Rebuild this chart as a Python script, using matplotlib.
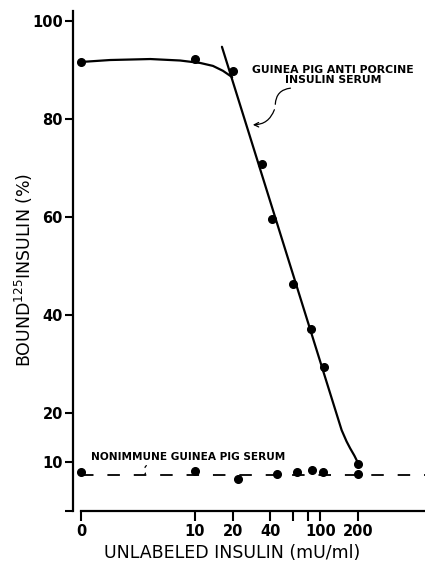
import matplotlib
matplotlib.use("Agg")
import matplotlib.pyplot as plt

# ---------------- data ----------------
# x: unlabeled insulin (mU/ml); 0 is drawn at a stand-in position on the log axis
ZERO_POS = 1.23

immune_x = [0, 10, 20, 34, 41, 60, 84, 107, 200]
immune_y = [91.6, 92.2, 89.8, 70.8, 59.6, 46.3, 37.1, 29.4, 9.6]

# hand-drawn curve through the immune-serum points (plateau, then steep fall)
plateau_x = [0, 2.1, 4.4, 7.6, 11.0, 13.9, 16.7, 19.8]
plateau_y = [91.6, 92.0, 92.2, 91.9, 91.4, 90.8, 89.8, 88.5]
steep_x = [16.4, 148, 162, 173, 187, 200]
steep_y = [94.7, 16.5, 14.2, 12.8, 11.3, 9.8]

nonimmune_x = [0, 10, 22, 45, 65, 86, 105, 200]
nonimmune_y = [8.0, 8.2, 6.5, 7.5, 8.0, 8.4, 8.0, 7.6]
nonimmune_level = 7.3

x_ticks = [0, 10, 20, 40, 60, 80, 100, 200]
x_ticklabels = ["0", "10", "20", "40", "", "", "100", "200"]
y_ticks = [0, 10, 20, 40, 60, 80, 100]
y_ticklabels = ["", "10", "20", "40", "60", "80", "100"]


def pos(xs):
    return [ZERO_POS if v == 0 else v for v in xs]


plt.rcParams["lines.scale_dashes"] = False
plt.rcParams["font.family"] = ["DejaVu Sans"]

fig = plt.figure(figsize=(4.25, 5.65), dpi=100)
ax = fig.add_axes([81 / 425, 54 / 565, 344 / 425, 500 / 565])

ax.set_xscale("log")
ax.set_xlim(ZERO_POS, 685)
ax.set_ylim(0, 102)

lw = 1.6
ax.plot(pos(plateau_x), plateau_y, color="black", lw=lw, clip_on=False,
        solid_capstyle="round", solid_joinstyle="round")
ax.plot(steep_x, steep_y, color="black", lw=lw, clip_on=False,
        solid_capstyle="round", solid_joinstyle="round")
ax.plot(pos(immune_x), immune_y, "o", color="black", ms=5.5, clip_on=False)

ax.axhline(nonimmune_level, color="black", lw=1.3, dashes=(9, 10))
ax.plot(pos(nonimmune_x), nonimmune_y, "o", color="black", ms=5.5,
        clip_on=False)

# annotations
ax.text(127, 88.9, "GUINEA PIG ANTI PORCINE\nINSULIN SERUM", ha="center",
        va="center", fontsize=7.8, fontweight="bold", linespacing=1.0)
ax.annotate("", xy=(43.7, 82.4), xytext=(60.8, 86.3),
            arrowprops=dict(arrowstyle="-", lw=0.9,
                            connectionstyle="arc3,rad=0.5"))
ax.annotate("", xy=(27.5, 78.8), xytext=(43.7, 82.4),
            arrowprops=dict(arrowstyle="->", lw=0.9, mutation_scale=8,
                            connectionstyle="arc3,rad=-0.4"))

ax.text(1.47, 11.0, "NONIMMUNE GUINEA PIG SERUM", ha="left", va="center",
        fontsize=7.6, fontweight="bold")
ax.annotate("", xy=(4.0, 8.3), xytext=(4.3, 9.4),
            arrowprops=dict(arrowstyle="-", lw=0.9,
                            connectionstyle="arc3,rad=0.6"))
ax.annotate("", xy=(3.8, 7.3), xytext=(4.0, 8.3),
            arrowprops=dict(arrowstyle="-", lw=0.9,
                            connectionstyle="arc3,rad=-0.6"))

# axes styling
for s in ("top", "right"):
    ax.spines[s].set_visible(False)
ax.spines["left"].set_position(("outward", 6))
ax.spines["left"].set_linewidth(1.6)
ax.spines["bottom"].set_linewidth(1.6)

ax.set_xticks(pos(x_ticks))
ax.set_xticklabels(x_ticklabels)
ax.xaxis.set_minor_locator(matplotlib.ticker.NullLocator())
ax.set_yticks(y_ticks)
ax.set_yticklabels(y_ticklabels)
ax.tick_params(axis="x", direction="out", length=7, width=1.5, pad=2,
               labelsize=10.5)
ax.tick_params(axis="y", direction="out", length=6, width=1.5, pad=1,
               labelsize=10.5)
for lab in ax.get_xticklabels() + ax.get_yticklabels():
    lab.set_fontweight("bold")

fig.text(232 / 425, 1 - 553 / 565, "UNLABELED INSULIN (mU/ml)", ha="center",
         va="center", fontsize=12.5)
fig.text(24 / 425, 1 - 270 / 565, r"BOUND$^{125}$INSULIN (%)", ha="center",
         va="center", rotation=90, fontsize=12.5)

fig.savefig("out.png", dpi=100)
